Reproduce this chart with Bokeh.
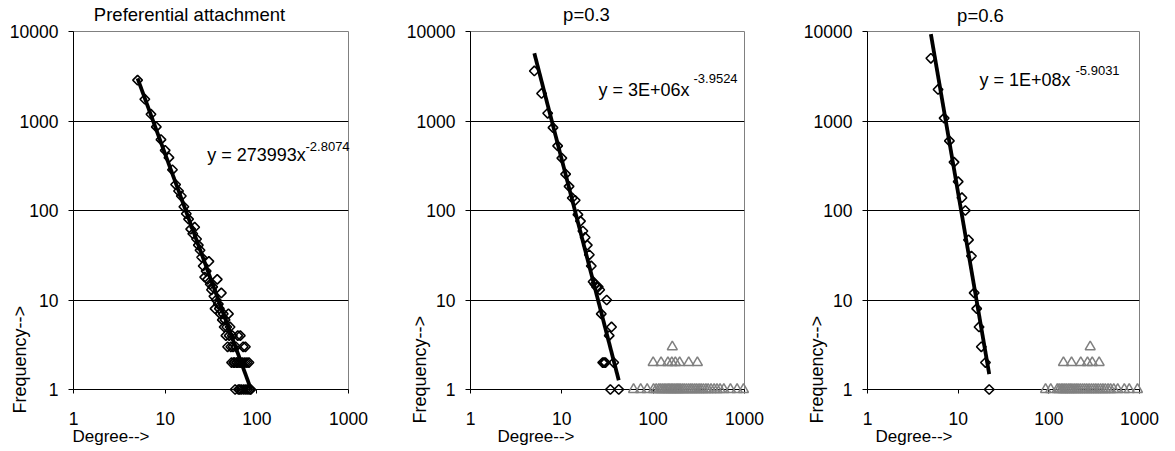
import numpy as np
from bokeh.plotting import figure
from bokeh.layouts import row
from bokeh.models import FixedTicker
from bokeh.core.properties import value
from bokeh.embed import file_html
from bokeh.resources import INLINE

# ---------------- data ----------------
x_ticks = [1, 10, 100, 1000]
x_tick_labels = ["1", "10", "100", "1000"]
y_ticks = [1, 10, 100, 1000, 10000]
y_tick_labels = ["1", "10", "100", "1000", "10000"]

titles = ["Preferential attachment", "p=0.3", "p=0.6"]
x_title = "Degree-->"
y_title = "Frequency-->"
fit_text = ["y = 273993x", "y = 3E+06x", "y = 1E+08x"]
fit_exp_text = ["-2.8074", "-3.9524", "-5.9031"]
fit_coef = [273993, 3.3e6, 1.25e8]
fit_exp = [-2.8074, -3.9524, -5.9031]

# Preferential attachment
pa_deg = [5, 6, 7, 8, 9, 10, 11, 12, 13, 14, 15, 16, 17, 18, 19, 20, 21, 22, 23, 24,
          25, 26, 27, 28, 29, 30, 31, 32, 33, 34, 35, 36, 37, 38, 39, 40, 41, 42, 43, 44,
          45, 46, 47, 48, 49, 50, 51, 52, 53, 54, 55, 56, 57, 58, 59, 60, 61, 62, 63, 64,
          65, 66, 67, 68, 70, 71, 72, 74, 75, 76, 78, 80, 82, 84, 86]
pa_freq = [2860, 1750, 1190, 860, 620, 470, 390, 285, 195, 165, 145, 110, 92, 80, 62, 55, 65, 48, 41, 36,
           30, 24, 18, 21, 17, 27, 15, 13, 14, 11, 8, 10, 17, 9, 8, 7, 12, 6, 7, 5,
           6, 4, 5, 3, 7, 4, 5, 3, 2, 4, 3, 2, 2, 1, 3, 2, 2, 4, 1, 2,
           1, 4, 2, 1, 2, 3, 1, 2, 3, 1, 2, 1, 2, 1, 1]

# p = 0.3
p3_deg = [5, 6, 7, 8, 9, 10, 11, 12, 13, 14, 15, 16, 17, 18, 19, 20, 21, 22, 23, 24,
          25, 26, 27, 28, 29, 30, 31, 33, 34, 35, 37, 42]
p3_freq = [3620, 2030, 1220, 843, 527, 385, 255, 186, 138, 130, 90, 76, 59, 50, 41, 32, 24, 16, 15, 14,
           14, 13, 7, 2, 2, 2, 10, 4, 1, 5, 2, 1]
p3_tri_deg = [61, 73, 86, 101, 108, 115, 120, 126, 132, 138, 145, 150, 157, 163, 170, 178, 185, 192,
              200, 210, 220, 232, 245, 258, 270, 285, 300, 318, 335, 355, 378, 400, 430, 465, 500,
              540, 594, 702, 830, 975,
              100, 122, 145, 160, 175, 195, 245, 305,
              162]
p3_tri_freq = [1] * 40 + [2] * 8 + [3]

# p = 0.6
p6_deg = [5, 6, 7, 8, 9, 10, 11, 12, 13, 14, 15, 16, 17, 18, 20, 22]
p6_freq = [5020, 2250, 1075, 600, 347, 210, 139, 100, 47, 31, 12, 8, 5, 3, 2, 1]
p6_tri_deg = [92, 105, 124, 130, 137, 143, 150, 157, 165, 172, 180, 190, 200, 210, 222, 235, 248,
              262, 278, 295, 312, 330, 350, 372, 395, 420, 450, 480, 520, 575, 680, 770, 950,
              145, 178, 225, 267, 301, 359,
              286]
p6_tri_freq = [1] * 33 + [2] * 6 + [3]

# ---------------- style / layout ----------------
FONT = "Liberation Sans"
H = 451
TOP, BOTTOM = 31, 62
layouts = [
    dict(w=398, l=73, r=50, title=(116, 375), eq=(133.7, 235), sup=(232, 243.5),
         ylab=(-53.5, -24), xlab=(-1, -47)),
    dict(w=390, l=72, r=44, title=(116, 375.5), eq=(128, 300), sup=(223, 311),
         ylab=(-50.5, -34), xlab=(27, -47)),
    dict(w=379, l=79, r=28, title=(113, 374.5), eq=(112, 309.5), sup=(208, 319),
         ylab=(-50.5, -34), xlab=(8, -47)),
]


def make_panel(i, deg, freq, tri_deg=None, tri_freq=None):
    lay = layouts[i]
    fw = lay["w"] - lay["l"] - lay["r"]
    fh = H - TOP - BOTTOM

    def pos(pt):
        return 10 ** (pt[0] / (fw / 3.0)), 10 ** (pt[1] / (fh / 4.0))

    p = figure(width=lay["w"], height=H, x_axis_type="log", y_axis_type="log",
               x_range=(1, 1000), y_range=(1, 10000), output_backend="svg",
               toolbar_location=None, min_border_left=lay["l"], min_border_right=lay["r"],
               min_border_top=TOP, min_border_bottom=BOTTOM)
    p.background_fill_color = "white"
    p.border_fill_color = "white"
    p.outline_line_color = "#808080"
    p.outline_line_width = 1

    p.xaxis.ticker = FixedTicker(ticks=x_ticks)
    p.xaxis.major_label_overrides = {t: s for t, s in zip(x_ticks, x_tick_labels)}
    p.yaxis.ticker = FixedTicker(ticks=y_ticks)
    p.yaxis.major_label_overrides = {t: s for t, s in zip(y_ticks, y_tick_labels)}
    for ax in (p.xaxis, p.yaxis):
        ax.axis_line_color = "black"
        ax.axis_line_width = 1
        ax.major_tick_line_color = "black"
        ax.major_tick_in = 0
        ax.minor_tick_line_color = None
        ax.major_label_text_font = FONT
        ax.major_label_text_font_size = "17.5px"
        ax.major_label_text_color = "black"
    p.xaxis.major_tick_out = 4
    p.xaxis.major_label_standoff = 18
    p.yaxis.major_tick_out = 5
    p.yaxis.major_label_standoff = 10

    p.xgrid.visible = False
    p.ygrid.ticker = FixedTicker(ticks=[10, 100, 1000])
    p.ygrid.grid_line_color = "black"
    p.ygrid.grid_line_width = 1

    # trend line over the diamond series' degree span
    xs = np.array([min(deg), max(deg)], dtype=float)
    ys = fit_coef[i] * xs ** fit_exp[i]

    p.scatter(deg, freq, marker="square", angle=np.pi / 4, size=6.8, fill_color=None,
              line_color="black", line_width=1.6, level="overlay")
    if tri_deg is not None:
        p.scatter(tri_deg, tri_freq, marker="triangle", size=10, fill_color=None,
                  line_color="#808080", line_width=1.5, level="overlay")
    p.line(xs, ys, line_color="black", line_width=3.8, level="overlay")

    def add_text(pt, txt, size, align="left", angle=0.0):
        x, y = pos(pt)
        p.text(x=[x], y=[y], text=[txt], text_font=value(FONT), text_font_size=value(size),
               text_align=align, text_baseline="alphabetic", angle=angle,
               text_color="black", level="overlay")

    add_text(lay["title"], titles[i], "18.5px", "center")
    add_text(lay["eq"], fit_text[i], "18px")
    add_text(lay["sup"], fit_exp_text[i], "13px")
    add_text(lay["ylab"], y_title, "18px", "left", np.pi / 2)
    add_text(lay["xlab"], x_title, "17px")
    return p


p1 = make_panel(0, pa_deg, pa_freq)
p2 = make_panel(1, p3_deg, p3_freq, p3_tri_deg, p3_tri_freq)
p3 = make_panel(2, p6_deg, p6_freq, p6_tri_deg, p6_tri_freq)

layout = row(p1, p2, p3)
open("out.html", "w").write(file_html(layout, INLINE))
